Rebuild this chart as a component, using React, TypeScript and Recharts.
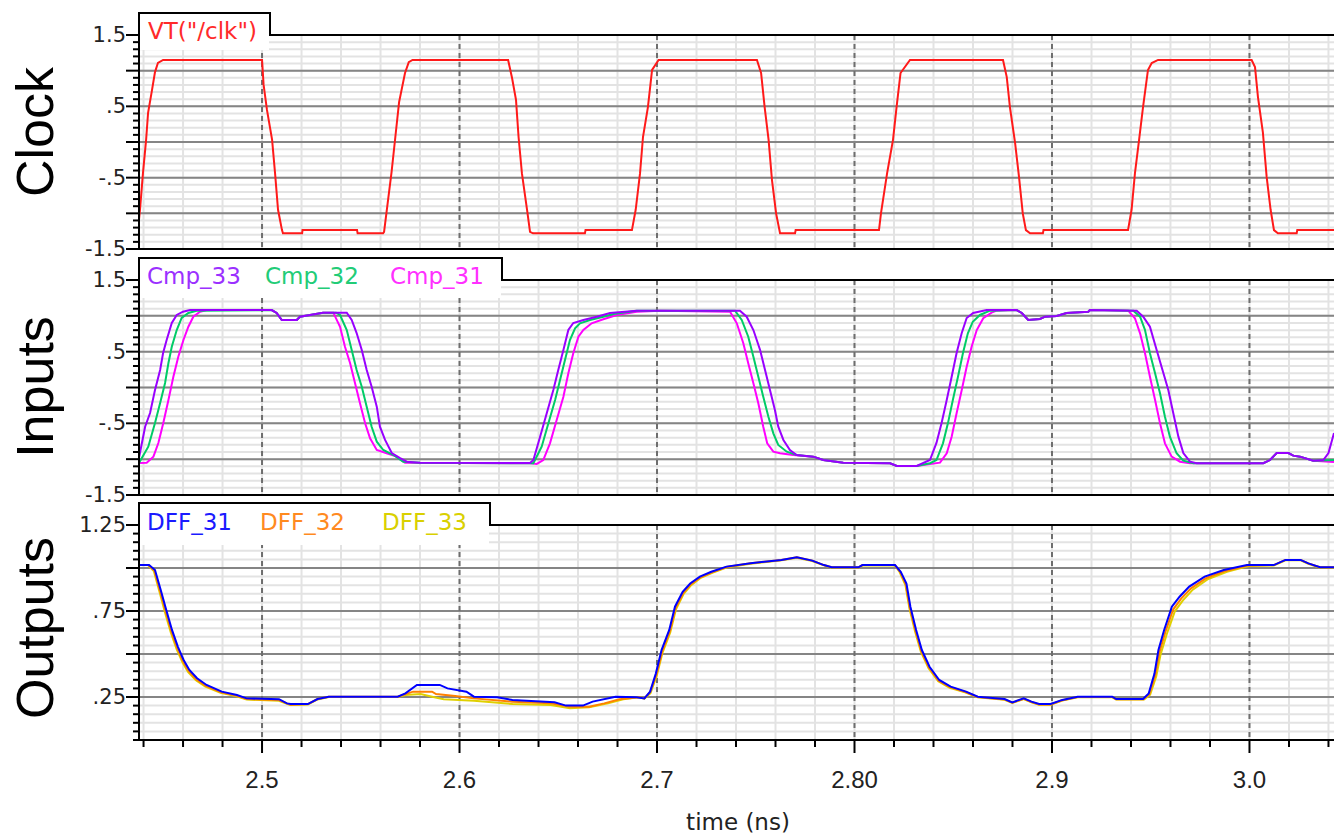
import React from "react";
import { LineChart, Line, XAxis, YAxis, CartesianGrid } from "recharts";

type Pt = [number, number];

const T_DOMAIN: [number, number] = [2.4377, 3.0428];

// time axis (ns)
const timeMajor = [2.5, 2.6, 2.7, 2.8, 2.9, 3.0];
const timeLabels = ["2.5", "2.6", "2.7", "2.80", "2.9", "3.0"];
const timeMinor = [
  2.44, 2.46, 2.48, 2.5, 2.52, 2.54, 2.56, 2.58, 2.6, 2.62, 2.64, 2.66, 2.68, 2.7, 2.72, 2.74,
  2.76, 2.78, 2.8, 2.82, 2.84, 2.86, 2.88, 2.9, 2.92, 2.94, 2.96, 2.98, 3.0, 3.02, 3.04,
];

// volt axes
const voltMajor = [-1.5, -1, -0.5, 0, 0.5, 1, 1.5];
const voltLabelled = [1.5, 0.5, -0.5, -1.5];
const voltLabels = ["1.5", ".5", "-.5", "-1.5"];
const outMajor = [0.25, 0.5, 0.75, 1.0, 1.25];
const outLabelled = [1.25, 0.75, 0.25];
const outLabels = ["1.25", ".75", ".25"];

const steps = (a: number, b: number, s: number) => {
  const out: number[] = [];
  for (let v = a; v <= b + 1e-9; v += s) out.push(Math.round(v * 100) / 100);
  return out;
};
const voltMinor = steps(-1.5, 1.5, 0.1);
const outMinor = steps(0, 1.25, 0.05);

// VT("/clk")
const clk: Pt[] = [
  [2.4377, -1.09], [2.4382, -0.95], [2.4397, -0.44], [2.4413, 0.03], [2.4423, 0.41], [2.4443, 0.73],
  [2.4458, 0.98], [2.4473, 1.11], [2.4499, 1.15], [2.5, 1.15], [2.5008, 0.8], [2.5025, 0.45],
  [2.5051, 0.03], [2.5066, -0.44], [2.5081, -0.95], [2.5101, -1.235], [2.5106, -1.28], [2.5203, -1.28],
  [2.5205, -1.235], [2.5481, -1.235], [2.5484, -1.28], [2.5613, -1.28], [2.5618, -1.26], [2.5636, -0.86],
  [2.5656, -0.42], [2.5675, 0.07], [2.5694, 0.56], [2.5724, 0.967], [2.5743, 1.12], [2.5762, 1.15],
  [2.6246, 1.15], [2.6266, 0.897], [2.6286, 0.59], [2.6299, 0.07], [2.6316, -0.44], [2.6342, -0.95],
  [2.6357, -1.26], [2.6372, -1.28], [2.6635, -1.28], [2.6638, -1.235], [2.6873, -1.235], [2.6892, -0.95],
  [2.6914, -0.44], [2.6929, 0.07], [2.6954, 0.49], [2.6975, 1.01], [2.7008, 1.15], [2.7506, 1.15],
  [2.7527, 0.967], [2.7545, 0.49], [2.7565, 0.03], [2.7582, -0.53], [2.7603, -1.0], [2.7623, -1.28],
  [2.7699, -1.28], [2.7702, -1.235], [2.8124, -1.235], [2.8134, -1.0], [2.8165, -0.44], [2.8195, 0.03],
  [2.8213, 0.49], [2.8233, 0.967], [2.8281, 1.15], [2.8752, 1.15], [2.8771, 0.91], [2.8787, 0.49],
  [2.8813, -0.01], [2.8833, -0.49], [2.8852, -1.0], [2.8868, -1.235], [2.8889, -1.28], [2.8954, -1.28],
  [2.8957, -1.235], [2.9385, -1.235], [2.9403, -0.95], [2.942, -0.44], [2.9441, 0.03], [2.9461, 0.49],
  [2.9486, 1.01], [2.9505, 1.107], [2.9537, 1.15], [3.0011, 1.15], [3.0028, 1.05], [3.0043, 0.63],
  [3.0068, 0.13], [3.0087, -0.49], [3.0107, -0.95], [3.0124, -1.235], [3.0144, -1.28], [3.0239, -1.28],
  [3.0242, -1.235], [3.0428, -1.235],
];

const cmp33: Pt[] = [
  [2.4377, -0.98], [2.4408, -0.547], [2.4433, -0.356], [2.4458, -0.035], [2.4484, 0.244], [2.4499, 0.481],
  [2.4517, 0.663], [2.4543, 0.9], [2.4568, 1.012], [2.46, 1.058], [2.4635, 1.081], [2.5049, 1.081],
  [2.5074, 1.04], [2.51, 0.942], [2.5176, 0.942], [2.5192, 0.988], [2.5243, 1.012], [2.5309, 1.044],
  [2.5429, 1.044], [2.5454, 0.942], [2.5479, 0.76], [2.5505, 0.523], [2.553, 0.244], [2.5555, 0.011],
  [2.5581, -0.268], [2.5597, -0.547], [2.5623, -0.732], [2.5657, -0.914], [2.5699, -0.984], [2.5733, -1.035],
  [2.58, -1.049], [2.6357, -1.053], [2.6374, -1.012], [2.6408, -0.686], [2.6442, -0.356], [2.6475, -0.035],
  [2.65, 0.244], [2.6526, 0.523], [2.6551, 0.802], [2.6576, 0.9], [2.6627, 0.942], [2.6695, 0.988],
  [2.6762, 1.04], [2.6897, 1.072], [2.742, 1.072], [2.7454, 0.988], [2.7488, 0.802], [2.7522, 0.523],
  [2.7547, 0.244], [2.7572, -0.035], [2.7597, -0.314], [2.7614, -0.547], [2.764, -0.732], [2.7673, -0.872],
  [2.7707, -0.942], [2.7791, -0.965], [2.7842, -1.012], [2.7943, -1.049], [2.818, -1.057], [2.8214, -1.095],
  [2.8315, -1.095], [2.8382, -1.012], [2.8415, -0.774], [2.8441, -0.495], [2.8467, -0.174], [2.8492, 0.151],
  [2.8517, 0.481], [2.8543, 0.76], [2.8568, 0.97], [2.8601, 1.04], [2.8669, 1.081], [2.8821, 1.081],
  [2.8847, 1.04], [2.888, 0.942], [2.8939, 0.956], [2.8965, 0.988], [2.9024, 0.998], [2.9074, 1.04],
  [2.9184, 1.058], [2.9192, 1.081], [2.9429, 1.072], [2.9462, 0.988], [2.9496, 0.848], [2.953, 0.523],
  [2.9564, 0.202], [2.9589, -0.035], [2.9614, -0.356], [2.964, -0.686], [2.9665, -0.914], [2.9699, -1.035],
  [2.9733, -1.057], [3.007, -1.057], [3.0104, -1.012], [3.0138, -0.914], [3.0197, -0.914], [3.0222, -0.951],
  [3.0256, -0.965], [3.0323, -1.021], [3.0374, -1.012], [3.04, -0.914], [3.0428, -0.635],
];

const cmp32: Pt[] = [
  [2.4377, -1.053], [2.4424, -0.826], [2.4458, -0.495], [2.4484, -0.216], [2.4509, 0.063], [2.4526, 0.342],
  [2.4543, 0.569], [2.4568, 0.802], [2.4593, 0.97], [2.4627, 1.04], [2.4669, 1.072], [2.5049, 1.081],
  [2.5074, 1.04], [2.51, 0.942], [2.5176, 0.942], [2.5192, 0.988], [2.5243, 1.012], [2.5309, 1.044],
  [2.5375, 1.044], [2.5395, 1.012], [2.5429, 0.802], [2.5454, 0.523], [2.5479, 0.244], [2.5505, 0.011],
  [2.553, -0.268], [2.5555, -0.547], [2.5581, -0.756], [2.5614, -0.872], [2.5665, -0.942], [2.5715, -1.035],
  [2.58, -1.049], [2.6357, -1.057], [2.6374, -1.057], [2.6416, -0.826], [2.645, -0.5], [2.6484, -0.174],
  [2.6509, 0.105], [2.6534, 0.384], [2.6559, 0.663], [2.6585, 0.826], [2.661, 0.896], [2.6661, 0.942],
  [2.6728, 0.988], [2.6779, 1.026], [2.6897, 1.072], [2.7395, 1.072], [2.7429, 0.942], [2.7462, 0.709],
  [2.7488, 0.43], [2.7513, 0.151], [2.7538, -0.128], [2.7564, -0.407], [2.7589, -0.639], [2.7614, -0.802],
  [2.7657, -0.896], [2.7707, -0.942], [2.7791, -0.965], [2.7842, -1.012], [2.7943, -1.049], [2.818, -1.057],
  [2.8214, -1.095], [2.8315, -1.095], [2.8382, -1.057], [2.8415, -1.012], [2.8448, -0.779], [2.8473, -0.5],
  [2.8498, -0.174], [2.8524, 0.151], [2.8549, 0.477], [2.8574, 0.756], [2.8599, 0.918], [2.8635, 1.012],
  [2.8686, 1.072], [2.8821, 1.081], [2.8847, 1.04], [2.888, 0.942], [2.8939, 0.956], [2.8965, 0.988],
  [2.9024, 0.998], [2.9074, 1.04], [2.9184, 1.058], [2.9192, 1.081], [2.9412, 1.072], [2.9446, 0.988],
  [2.9471, 0.802], [2.9496, 0.477], [2.9522, 0.198], [2.9547, -0.081], [2.9572, -0.407], [2.9597, -0.686],
  [2.9631, -0.918], [2.9665, -1.021], [2.9716, -1.057], [3.007, -1.057], [3.0104, -1.012], [3.0138, -0.914],
  [3.0197, -0.914], [3.0222, -0.951], [3.0256, -0.965], [3.0323, -1.021], [3.0428, -1.012],
];

const cmp31: Pt[] = [
  [2.4377, -1.053], [2.4416, -1.049], [2.445, -0.965], [2.4475, -0.774], [2.45, -0.495], [2.4526, -0.174],
  [2.4551, 0.151], [2.4576, 0.43], [2.4602, 0.663], [2.4627, 0.848], [2.4652, 0.988], [2.4686, 1.058],
  [2.472, 1.081], [2.5049, 1.081], [2.5074, 1.04], [2.51, 0.942], [2.5176, 0.942], [2.5192, 0.988],
  [2.5243, 1.012], [2.5309, 1.044], [2.5361, 1.044], [2.5395, 0.848], [2.542, 0.569], [2.5446, 0.338],
  [2.5471, 0.059], [2.5496, -0.22], [2.5522, -0.5], [2.5547, -0.709], [2.5581, -0.872], [2.5631, -0.918],
  [2.5682, -0.965], [2.5724, -1.049], [2.6357, -1.057], [2.6391, -1.067], [2.6424, -1.012], [2.6458, -0.779],
  [2.6492, -0.453], [2.6526, -0.128], [2.6551, 0.198], [2.6576, 0.477], [2.6602, 0.709], [2.6627, 0.802],
  [2.6669, 0.896], [2.6728, 0.952], [2.6796, 1.012], [2.6897, 1.058], [2.7015, 1.072], [2.737, 1.058],
  [2.7404, 0.896], [2.7437, 0.617], [2.7462, 0.338], [2.7488, 0.059], [2.7513, -0.22], [2.7538, -0.547],
  [2.7558, -0.779], [2.7589, -0.896], [2.7623, -0.918], [2.769, -0.942], [2.7791, -0.965], [2.7842, -1.012],
  [2.7943, -1.049], [2.818, -1.057], [2.8214, -1.095], [2.8315, -1.095], [2.8382, -1.067], [2.8433, -1.049],
  [2.8467, -0.918], [2.8492, -0.686], [2.8517, -0.36], [2.8543, -0.035], [2.8568, 0.29], [2.8593, 0.569],
  [2.8619, 0.802], [2.8652, 0.966], [2.8694, 1.044], [2.872, 1.072], [2.8821, 1.081], [2.8847, 1.04],
  [2.888, 0.942], [2.8939, 0.956], [2.8965, 0.988], [2.9024, 0.998], [2.9074, 1.04], [2.9184, 1.058],
  [2.9192, 1.081], [2.9386, 1.072], [2.942, 0.966], [2.9446, 0.756], [2.9471, 0.477], [2.9496, 0.151],
  [2.9522, -0.174], [2.9547, -0.5], [2.9572, -0.779], [2.9606, -0.965], [2.9648, -1.035], [2.9699, -1.057],
  [3.007, -1.057], [3.0104, -1.012], [3.0138, -0.914], [3.0197, -0.914], [3.0222, -0.951], [3.0256, -0.965],
  [3.0323, -1.021], [3.0428, -1.04],
];

const dff31: Pt[] = [
  [2.4377, 1.017], [2.4428, 1.017], [2.4458, 0.988], [2.4487, 0.872], [2.4515, 0.756], [2.4544, 0.64],
  [2.4574, 0.542], [2.4603, 0.465], [2.4632, 0.407], [2.4671, 0.359], [2.4719, 0.32], [2.4796, 0.281],
  [2.4873, 0.262], [2.4922, 0.242], [2.5086, 0.237], [2.5126, 0.213], [2.5145, 0.209], [2.5232, 0.209],
  [2.5281, 0.238], [2.5338, 0.252], [2.5687, 0.252], [2.5726, 0.271], [2.5784, 0.32], [2.59, 0.32],
  [2.5939, 0.3], [2.6035, 0.281], [2.6073, 0.252], [2.619, 0.248], [2.6268, 0.233], [2.6481, 0.219],
  [2.6539, 0.2], [2.6625, 0.2], [2.6674, 0.223], [2.679, 0.252], [2.6897, 0.248], [2.6936, 0.242],
  [2.6965, 0.281], [2.6994, 0.386], [2.7023, 0.523], [2.7062, 0.64], [2.7091, 0.775], [2.713, 0.862],
  [2.7168, 0.91], [2.7217, 0.95], [2.7275, 0.978], [2.7352, 1.008], [2.7474, 1.027], [2.763, 1.047],
  [2.7708, 1.062], [2.7786, 1.043], [2.7845, 1.017], [2.7884, 1.004], [2.802, 1.004], [2.804, 1.017],
  [2.8205, 1.017], [2.8234, 0.978], [2.8263, 0.91], [2.8283, 0.775], [2.8312, 0.64], [2.8341, 0.523],
  [2.838, 0.426], [2.8429, 0.349], [2.8487, 0.31], [2.8565, 0.281], [2.8624, 0.252], [2.876, 0.238],
  [2.8799, 0.219], [2.8857, 0.242], [2.8896, 0.223], [2.8935, 0.209], [2.8993, 0.209], [2.9052, 0.233],
  [2.913, 0.252], [2.9305, 0.252], [2.9325, 0.238], [2.9461, 0.238], [2.949, 0.271], [2.9519, 0.386],
  [2.9539, 0.523], [2.9568, 0.64], [2.9607, 0.775], [2.9646, 0.833], [2.9695, 0.892], [2.9773, 0.95],
  [2.987, 0.988], [2.9987, 1.017], [3.0123, 1.017], [3.0182, 1.047], [3.0259, 1.047], [3.0298, 1.027],
  [3.0357, 1.004], [3.0428, 1.004],
];

const dff32: Pt[] = [
  [2.4377, 1.017], [2.4425, 1.017], [2.4455, 0.985], [2.4484, 0.865], [2.4512, 0.748], [2.4541, 0.632],
  [2.4571, 0.534], [2.46, 0.458], [2.4629, 0.4], [2.4668, 0.352], [2.4716, 0.314], [2.4793, 0.277],
  [2.487, 0.258], [2.4922, 0.238], [2.5086, 0.232], [2.5126, 0.213], [2.5145, 0.205], [2.5232, 0.209],
  [2.5281, 0.238], [2.5338, 0.252], [2.5687, 0.252], [2.5726, 0.267], [2.5765, 0.281], [2.5861, 0.281],
  [2.5881, 0.267], [2.5978, 0.256], [2.6073, 0.242], [2.6268, 0.223], [2.6462, 0.213], [2.6559, 0.194],
  [2.6656, 0.194], [2.6733, 0.213], [2.681, 0.237], [2.6907, 0.248], [2.6936, 0.242], [2.6965, 0.278],
  [2.6997, 0.38], [2.7026, 0.515], [2.7065, 0.632], [2.7094, 0.767], [2.7133, 0.855], [2.7171, 0.905],
  [2.722, 0.946], [2.7278, 0.975], [2.7352, 1.006], [2.7474, 1.027], [2.763, 1.047], [2.7708, 1.062],
  [2.7786, 1.043], [2.7845, 1.017], [2.7884, 1.004], [2.802, 1.004], [2.804, 1.017], [2.8205, 1.017],
  [2.8231, 0.978], [2.826, 0.905], [2.828, 0.77], [2.8309, 0.635], [2.8338, 0.518], [2.8377, 0.421],
  [2.8426, 0.345], [2.8484, 0.307], [2.8562, 0.279], [2.8624, 0.25], [2.876, 0.236], [2.8799, 0.217],
  [2.8857, 0.24], [2.8896, 0.221], [2.8935, 0.207], [2.8993, 0.207], [2.9052, 0.231], [2.913, 0.25],
  [2.9305, 0.25], [2.9325, 0.237], [2.9463, 0.237], [2.9493, 0.268], [2.9523, 0.378], [2.9544, 0.51],
  [2.9574, 0.628], [2.9614, 0.76], [2.9654, 0.822], [2.9704, 0.882], [2.9782, 0.942], [2.9878, 0.983],
  [2.999, 1.015], [3.0123, 1.017], [3.0182, 1.047], [3.0259, 1.047], [3.0298, 1.027], [3.0357, 1.004],
  [3.0428, 1.004],
];

const dff33: Pt[] = [
  [2.4377, 1.017], [2.4422, 1.017], [2.4452, 0.982], [2.4481, 0.86], [2.4509, 0.74], [2.4538, 0.625],
  [2.4568, 0.527], [2.4597, 0.452], [2.4626, 0.395], [2.4665, 0.347], [2.4713, 0.31], [2.479, 0.274],
  [2.4867, 0.255], [2.4922, 0.235], [2.5086, 0.228], [2.5126, 0.21], [2.5145, 0.203], [2.5232, 0.207],
  [2.5281, 0.236], [2.5338, 0.25], [2.5687, 0.25], [2.5726, 0.262], [2.5803, 0.267], [2.5861, 0.252],
  [2.592, 0.237], [2.6073, 0.228], [2.6268, 0.209], [2.6462, 0.203], [2.6559, 0.184], [2.6656, 0.19],
  [2.6752, 0.213], [2.6829, 0.237], [2.6907, 0.248], [2.6936, 0.24], [2.6967, 0.272], [2.6999, 0.375],
  [2.7028, 0.508], [2.7067, 0.625], [2.7096, 0.76], [2.7135, 0.85], [2.7173, 0.9], [2.7222, 0.943],
  [2.728, 0.972], [2.7355, 1.004], [2.7474, 1.025], [2.763, 1.045], [2.7708, 1.06], [2.7786, 1.041],
  [2.7845, 1.015], [2.7884, 1.002], [2.802, 1.002], [2.804, 1.015], [2.8205, 1.015], [2.8229, 0.975],
  [2.8258, 0.9], [2.8278, 0.765], [2.8307, 0.63], [2.8336, 0.513], [2.8375, 0.417], [2.8424, 0.342],
  [2.8482, 0.304], [2.856, 0.277], [2.8624, 0.248], [2.876, 0.234], [2.8799, 0.215], [2.8857, 0.238],
  [2.8896, 0.219], [2.8935, 0.205], [2.8993, 0.205], [2.9052, 0.229], [2.913, 0.248], [2.9305, 0.248],
  [2.9325, 0.235], [2.9466, 0.235], [2.9497, 0.264], [2.9528, 0.37], [2.955, 0.498], [2.9581, 0.615],
  [2.9622, 0.748], [2.9663, 0.812], [2.9713, 0.874], [2.9791, 0.936], [2.9886, 0.978], [2.9995, 1.012],
  [3.0123, 1.015], [3.0182, 1.045], [3.0259, 1.045], [3.0298, 1.025], [3.0357, 1.002], [3.0428, 1.002],
];

const rows = (pts: Pt[]) => pts.map(([t, v]) => ({ t, v }));
const near = (list: number[], v: number) => list.findIndex((m) => Math.abs(m - v) < 1e-6);

const TICK_FONT = "'DejaVu Sans', Verdana, sans-serif";

function makeYTick(major: number[], labelled: number[], labels: string[]) {
  return (props: any) => {
    const { x, y, payload } = props;
    const v = payload.value;
    const len = near(major, v) >= 0 ? 13 : 6;
    const li = near(labelled, v);
    return (
      <g>
        <line x1={x - len} x2={x} y1={y} y2={y} stroke="#000" strokeWidth={2} />
        {li >= 0 && (
          <text x={x - 13} y={y + 7} textAnchor="end" fontSize={21} fontFamily={TICK_FONT} fill="#222">
            {labels[li]}
          </text>
        )}
      </g>
    );
  };
}

function XTick(props: any) {
  const { x, y, payload } = props;
  const li = near(timeMajor, payload.value);
  const len = li >= 0 ? 13 : 7;
  return (
    <g>
      <line x1={x} x2={x} y1={y} y2={y + len} stroke="#000" strokeWidth={2} />
      {li >= 0 && (
        <text x={x} y={y + 48} textAnchor="middle" fontSize={24} fontFamily="'Liberation Sans', Arial, sans-serif" fill="#222">
          {timeLabels[li]}
        </text>
      )}
    </g>
  );
}

type Series = { data: Pt[]; color: string; name: string };

function Panel(props: {
  top: number;
  height: number;
  mTop: number;
  mBottom: number;
  yDomain: [number, number];
  yMinor: number[];
  yMajor: number[];
  yLabelled: number[];
  yLabels: string[];
  series: Series[];
  showX?: boolean;
}) {
  const { top, height, mTop, mBottom, yDomain, yMinor, yMajor, yLabelled, yLabels, series, showX } = props;
  const gridMajor = yMajor.filter((v) => v > yDomain[0] && v < yDomain[1]);
  return (
    <div style={{ position: "absolute", left: 0, top, width: 1334, height }}>
      <LineChart width={1334} height={height} margin={{ top: mTop, bottom: mBottom, left: 0, right: 0 }}>
        <CartesianGrid horizontalValues={yMinor} verticalValues={timeMinor} stroke="#e3e3e3" strokeWidth={2} />
        <CartesianGrid vertical={false} horizontalValues={gridMajor} stroke="#858585" strokeWidth={2} />
        <CartesianGrid horizontal={false} verticalValues={timeMajor} stroke="#6e6e6e" strokeWidth={2} strokeDasharray="5 4" />
        <XAxis
          type="number"
          dataKey="t"
          domain={T_DOMAIN}
          allowDataOverflow
          ticks={timeMinor}
          interval={0}
          hide={!showX}
          height={96}
          tickSize={0}
          tickMargin={0}
          tickLine={false}
          axisLine={{ stroke: "#000", strokeWidth: 2 }}
          tick={<XTick />}
        />
        <YAxis
          type="number"
          domain={yDomain}
          allowDataOverflow
          ticks={yMinor}
          interval={0}
          width={139}
          tickSize={0}
          tickMargin={0}
          tickLine={false}
          axisLine={{ stroke: "#000", strokeWidth: 2 }}
          tick={makeYTick(yMajor, yLabelled, yLabels)}
        />
        {series.map((s) => (
          <Line
            key={s.name}
            data={rows(s.data)}
            dataKey="v"
            type="linear"
            stroke={s.color}
            strokeWidth={2}
            dot={false}
            isAnimationActive={false}
          />
        ))}
      </LineChart>
    </div>
  );
}

const TITLE_FONT = "'Liberation Sans', Arial, sans-serif";

export default function App() {
  return (
    <div style={{ position: "absolute", left: 0, top: 0, width: 1334, height: 836, background: "#fff", overflow: "hidden" }}>
      <Panel
        top={0}
        height={264}
        mTop={35}
        mBottom={15}
        yDomain={[-1.5, 1.5]}
        yMinor={voltMinor}
        yMajor={voltMajor}
        yLabelled={voltLabelled}
        yLabels={voltLabels}
        series={[{ data: clk, color: "#ff1a1a", name: "clk" }]}
      />
      <Panel
        top={250}
        height={260}
        mTop={30}
        mBottom={15}
        yDomain={[-1.5, 1.5]}
        yMinor={voltMinor}
        yMajor={voltMajor}
        yLabelled={voltLabelled}
        yLabels={voltLabels}
        series={[
          { data: cmp31, color: "#ff00ff", name: "Cmp_31" },
          { data: cmp32, color: "#00cc66", name: "Cmp_32" },
          { data: cmp33, color: "#9900ff", name: "Cmp_33" },
        ]}
      />
      <Panel
        top={500}
        height={336}
        mTop={25}
        mBottom={0}
        yDomain={[0, 1.25]}
        yMinor={outMinor}
        yMajor={outMajor}
        yLabelled={outLabelled}
        yLabels={outLabels}
        showX
        series={[
          { data: dff33, color: "#e0d000", name: "DFF_33" },
          { data: dff32, color: "#ff8000", name: "DFF_32" },
          { data: dff31, color: "#0000ff", name: "DFF_31" },
        ]}
      />
      <svg width={1334} height={836} style={{ position: "absolute", left: 0, top: 0, pointerEvents: "none" }}>
        {/* legend tabs */}
        <rect x={140} y={14} width={129} height={36} fill="#fff" />
        <path d="M139,50 V13 H270 V35 H1334" fill="none" stroke="#000" strokeWidth={2} />
        <line x1={139} x2={1334} y1={249} y2={249} stroke="#000" strokeWidth={2} />
        <text x={148} y={39} fontSize={23} fontFamily={TICK_FONT} fill="#ff2a2a">VT("/clk")</text>

        <rect x={140} y={259} width={361} height={39} fill="#fff" />
        <path d="M139,298 V258 H502 V280 H1334" fill="none" stroke="#000" strokeWidth={2} />
        <line x1={139} x2={1334} y1={495} y2={495} stroke="#000" strokeWidth={2} />
        <text x={147} y={284} fontSize={23} fontFamily={TICK_FONT} fill="#9b30ff">Cmp_33</text>
        <text x={265} y={284} fontSize={23} fontFamily={TICK_FONT} fill="#22cc77">Cmp_32</text>
        <text x={390} y={284} fontSize={23} fontFamily={TICK_FONT} fill="#ff30ff">Cmp_31</text>

        <rect x={140} y={504} width={349} height={41} fill="#fff" />
        <path d="M139,545 V503 H490 V525 H1334" fill="none" stroke="#000" strokeWidth={2} />
        <text x={147} y={530} fontSize={23} fontFamily={TICK_FONT} fill="#1a1aff">DFF_31</text>
        <text x={260} y={530} fontSize={23} fontFamily={TICK_FONT} fill="#ff8a1f">DFF_32</text>
        <text x={382} y={530} fontSize={23} fontFamily={TICK_FONT} fill="#d9d000">DFF_33</text>

        {/* panel titles */}
        <text transform="translate(53,132) rotate(-90)" textAnchor="middle" fontSize={52} fontFamily={TITLE_FONT} fill="#000">Clock</text>
        <text transform="translate(53,387) rotate(-90)" textAnchor="middle" fontSize={52} fontFamily={TITLE_FONT} fill="#000">Inputs</text>
        <text transform="translate(53,628) rotate(-90)" textAnchor="middle" fontSize={52} fontFamily={TITLE_FONT} fill="#000">Outputs</text>

        <text x={738} y={830} textAnchor="middle" fontSize={23} fontFamily={TICK_FONT} fill="#222">time (ns)</text>
      </svg>
    </div>
  );
}
